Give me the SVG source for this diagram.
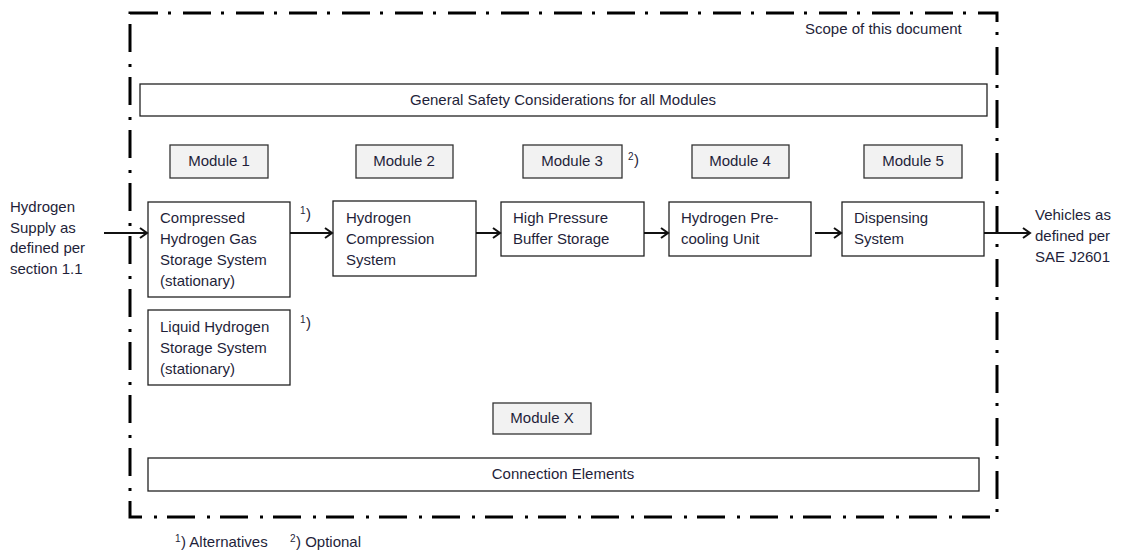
<svg xmlns="http://www.w3.org/2000/svg" width="1121" height="550" viewBox="0 0 1121 550">
<style>
text{font-family:"Liberation Sans",Arial,sans-serif;font-size:15px;fill:#1f1f3a}
.box{fill:#fff;stroke:#222;stroke-width:1.3}
.mod{fill:#f2f2f2;stroke:#333;stroke-width:1.3}
.conn{stroke:#111;stroke-width:2;fill:none}
.sup{font-size:10px}
.mid{text-anchor:middle}
</style>
<defs>
<marker id="ah" markerWidth="12" markerHeight="12" refX="9" refY="6" orient="auto" markerUnits="userSpaceOnUse">
<path d="M2,1 L9,6 L2,11" fill="none" stroke="#111" stroke-width="2"/>
</marker>
</defs>
<rect id="scope" x="130" y="13" width="867" height="504" fill="none" stroke="#000" stroke-width="3" stroke-dasharray="28 10 3 12"/>
<text x="805" y="34">Scope of this document</text>
<g id="general"><rect class="box" x="140" y="84" width="847" height="32"/><text class="mid" x="563" y="105">General Safety Considerations for all Modules</text></g>
<g id="m1"><rect class="mod" x="170" y="145" width="98" height="33"/><text class="mid" x="219" y="166">Module 1</text></g>
<g id="m2"><rect class="mod" x="356" y="145" width="97" height="33"/><text class="mid" x="404" y="166">Module 2</text></g>
<g id="m3"><rect class="mod" x="523" y="145" width="99" height="33"/><text class="mid" x="572" y="166">Module 3</text><text class="sup" x="628" y="160">2</text><text x="634" y="165">)</text></g>
<g id="m4"><rect class="mod" x="692" y="145" width="97" height="33"/><text class="mid" x="740" y="166">Module 4</text></g>
<g id="m5"><rect class="mod" x="864" y="145" width="98" height="33"/><text class="mid" x="913" y="166">Module 5</text></g>
<g id="mx"><rect class="mod" x="493" y="403" width="98" height="31"/><text class="mid" x="542" y="423">Module X</text></g>
<g id="supply"><text x="10" y="212">Hydrogen</text><text x="10" y="233">Supply as</text><text x="10" y="253">defined per</text><text x="10" y="274">section 1.1</text></g>
<g id="compressed"><rect class="box" x="148" y="202" width="142" height="95"/><text x="160" y="223">Compressed</text><text x="160" y="244">Hydrogen Gas</text><text x="160" y="265">Storage  System</text><text x="160" y="286">(stationary)</text><text class="sup" x="300" y="214">1</text><text x="306" y="219">)</text></g>
<g id="liquid"><rect class="box" x="148" y="310" width="142" height="75"/><text x="160" y="332">Liquid Hydrogen</text><text x="160" y="353">Storage  System</text><text x="160" y="374">(stationary)</text><text class="sup" x="300" y="323">1</text><text x="306" y="328">)</text></g>
<g id="compression"><rect class="box" x="333" y="201" width="143" height="75"/><text x="346" y="223">Hydrogen</text><text x="346" y="244">Compression</text><text x="346" y="265">System</text></g>
<g id="buffer"><rect class="box" x="501" y="202" width="143" height="54"/><text x="513" y="223">High Pressure</text><text x="513" y="244">Buffer Storage</text></g>
<g id="precool"><rect class="box" x="669" y="202" width="142" height="54"/><text x="681" y="223">Hydrogen Pre-</text><text x="681" y="244">cooling Unit</text></g>
<g id="dispensing"><rect class="box" x="842" y="202" width="142" height="54"/><text x="854" y="223">Dispensing</text><text x="854" y="244">System</text></g>
<g id="vehicles"><text x="1035" y="220">Vehicles as</text><text x="1035" y="241">defined per</text><text x="1035" y="262">SAE J2601</text></g>
<g id="connection"><rect class="box" x="148" y="458" width="831" height="33"/><text class="mid" x="563" y="479">Connection Elements</text></g>
<g id="connectors">
<line class="conn" x1="104" y1="233" x2="147" y2="233" marker-end="url(#ah)"/>
<line class="conn" x1="290" y1="233" x2="332" y2="233" marker-end="url(#ah)"/>
<line class="conn" x1="476" y1="233" x2="500" y2="233" marker-end="url(#ah)"/>
<line class="conn" x1="644" y1="233" x2="668" y2="233" marker-end="url(#ah)"/>
<line class="conn" x1="815" y1="233" x2="841" y2="233" marker-end="url(#ah)"/>
<line class="conn" x1="984" y1="233" x2="1030" y2="233" marker-end="url(#ah)"/>
</g>
<g id="footnote"><text class="sup" x="175" y="542">1</text><text x="181" y="547">) Alternatives</text><text class="sup" x="290" y="542">2</text><text x="296" y="547">) Optional</text></g>
</svg>
